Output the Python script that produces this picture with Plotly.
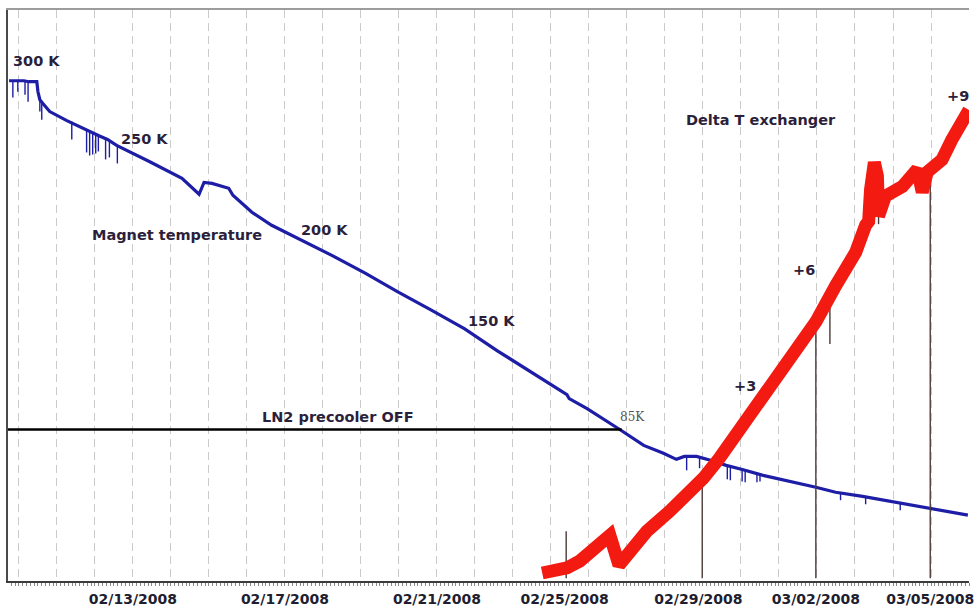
import plotly.graph_objects as go

# ---- Magnet temperature (K) vs. elapsed days ----
blue_day = [-0.26, -0.18, 0.13, 0.26, 0.47, 0.50, 0.55, 0.63, 0.81, 1.26, 1.78, 2.09, 2.33,
            2.57, 3.43, 4.29, 4.74, 4.87, 5.08, 5.52, 5.63, 6.13, 6.65, 7.17, 8.22, 9.11,
            9.97, 10.84, 11.73, 12.59, 13.64, 14.42, 14.48, 14.95, 15.81, 16.44, 16.96,
            17.30, 17.51, 17.83, 18.22, 18.61, 19.01, 19.35, 19.58, 20.97, 21.49, 22.20,
            23.06, 23.93, 24.97]
blue_temp = [300.0, 300.0, 300.0, 299.4, 299.4, 293.2, 288.3, 285.9, 281.0, 275.4, 269.3,
             266.2, 263.8, 260.1, 250.2, 239.8, 230.0, 237.3, 236.7, 233.7, 229.4, 218.9,
             210.9, 204.8, 192.5, 181.4, 169.8, 158.7, 147.0, 133.5, 118.2, 106.5, 104.0,
             97.9, 85.0, 75.2, 70.3, 66.6, 68.4, 68.4, 65.9, 62.9, 60.5, 58.0, 56.7, 49.4,
             46.3, 43.8, 40.2, 36.5, 32.2]

# short sensor drop-outs on the magnet trace
spike_day = [-0.16, -0.03, 0.16, 0.24, 0.55, 0.60, 1.39, 1.78, 1.86, 1.94, 2.02, 2.09, 2.28,
             2.38, 2.59, 17.57, 17.91, 18.64, 18.72, 19.03, 19.11, 19.42, 19.50, 21.62,
             22.28, 23.19]
spike_top = [300.0, 300.0, 300.0, 299.4, 288.3, 285.9, 274.8, 269.3, 268.7, 267.4, 266.8,
             266.2, 264.4, 263.1, 260.7, 67.8, 67.8, 62.9, 62.3, 60.5, 60.5, 58.6, 58.0,
             46.3, 43.2, 39.6]
spike_low = [289.6, 293.2, 291.4, 287.1, 281.0, 276.0, 263.8, 255.8, 253.9, 254.5, 255.2,
             256.4, 251.5, 252.7, 249.0, 59.8, 61.1, 54.3, 53.7, 53.0, 52.4, 52.4, 53.0,
             41.4, 38.9, 35.2]

# ---- Delta T across the exchanger (relative units) ----
red_day = [13.77, 14.16, 14.42, 14.76, 15.21, 15.55, 15.79, 16.07, 16.52, 17.12, 17.57,
           18.01, 18.43, 18.87, 19.58, 20.10, 20.63, 20.97, 21.49, 22.02, 22.28, 22.36,
           22.41, 22.51, 22.59, 22.62, 22.80, 23.25, 23.64, 23.77, 23.90, 24.29, 24.55,
           24.82, 25.00]
red_dt = [0.14, 0.19, 0.23, 0.35, 0.58, 0.80, 0.28, 0.52, 0.87, 1.22, 1.50, 1.80, 2.15,
          2.55, 3.25, 3.72, 4.24, 4.54, 5.17, 5.76, 6.23, 6.30, 6.86, 7.33, 7.09, 6.39,
          6.74, 6.91, 7.21, 6.81, 7.16, 7.38, 7.73, 8.03, 8.25]

# vertical markers on the Delta T trace
event_day = [14.40, 17.98, 20.97, 21.34, 22.62, 23.98]
event_low = [0.05, 0.05, 0.05, 4.15, 6.25, 0.05]
event_high = [0.87, 1.80, 4.45, 4.94, 6.86, 6.95]

# LN2 precooler switched off at 85 K
ln2_day = [-0.29, 15.86]
ln2_temp = [85.0, 85.0]

tick_pos = [3.0, 7.0, 11.0, 14.36, 17.88, 20.97, 23.98]
tick_text = ["02/13/2008", "02/17/2008", "02/21/2008", "02/25/2008",
             "02/29/2008", "03/02/2008", "03/05/2008"]

temp_labels = ["300 K", "250 K", "Magnet temperature", "200 K", "150 K", "LN2 precooler OFF"]
temp_label_day = [0.47, 3.31, 4.16, 8.05, 12.43, 8.40]
temp_label_val = [312.3, 263.8, 204.8, 208.2, 151.9, 93.0]

dt_labels = ["Delta T exchanger", "+3", "+6", "+9"]
dt_label_day = [19.53, 19.11, 20.65, 24.71]
dt_label_val = [8.08, 3.42, 5.45, 8.50]

X_RANGE = [-0.288, 25.0]
Y_RANGE = [-8.4, 343.6]
Y2_RANGE = [0.0, 10.0]

BLUE = "#1d1da6"
RED = "#f31a12"
TEXT = "#2c1f3c"


def segments(xs, lows, highs):
    px, py = [], []
    for x, lo, hi in zip(xs, lows, highs):
        px += [x, x, None]
        py += [lo, hi, None]
    return px, py


fig = go.Figure()

sx, sy = segments(spike_day, spike_low, spike_top)
fig.add_trace(go.Scatter(x=sx, y=sy, mode="lines", line=dict(color=BLUE, width=1.4),
                         hoverinfo="skip", showlegend=False))
fig.add_trace(go.Scatter(x=blue_day, y=blue_temp, mode="lines", name="Magnet temperature",
                         line=dict(color=BLUE, width=3.2), showlegend=False))

ex, ey = segments(event_day, event_low, event_high)
fig.add_trace(go.Scatter(x=ex, y=ey, yaxis="y2", mode="lines",
                         line=dict(color="#4d3a3a", width=1.4),
                         hoverinfo="skip", showlegend=False))
fig.add_trace(go.Scatter(x=red_day, y=red_dt, yaxis="y2", mode="lines",
                         name="Delta T exchanger",
                         line=dict(color=RED, width=13), showlegend=False))

fig.add_trace(go.Scatter(x=ln2_day, y=ln2_temp, xaxis="x2", mode="lines",
                         line=dict(color="#000000", width=2.5),
                         hoverinfo="skip", showlegend=False))

label_font = dict(family="DejaVu Sans", size=14.5, color=TEXT, weight="bold")
for t, x, y in zip(temp_labels, temp_label_day, temp_label_val):
    fig.add_annotation(text=t, x=x, y=y, xref="x", yref="y", showarrow=False,
                       xanchor="center", yanchor="middle", font=label_font)
for t, x, y in zip(dt_labels, dt_label_day, dt_label_val):
    fig.add_annotation(text=t, x=x, y=y, xref="x", yref="y2", showarrow=False,
                       xanchor="center", yanchor="middle", font=label_font)
fig.add_annotation(text="85K", x=16.15, y=92.4, xref="x", yref="y", showarrow=False,
                   xanchor="center", yanchor="middle",
                   font=dict(family="DejaVu Serif", size=12, color="#555555"))

fig.update_layout(
    width=974, height=607,
    margin=dict(l=8, r=0, t=10, b=24),
    paper_bgcolor="white", plot_bgcolor="white",
    showlegend=False,
    xaxis=dict(
        range=X_RANGE, tickmode="array", tickvals=tick_pos, ticktext=tick_text,
        ticks="", showgrid=False, zeroline=False,
        showline=True, linecolor="#3c3c3c", linewidth=2,
        tickfont=dict(family="DejaVu Sans", size=14, color="#1e1e30", weight="bold"),
        ticklabeloverflow="allow", ticklabelstandoff=4,
        minor=dict(ticks="outside", ticklen=3, tickwidth=1, tickcolor="#8a8a8a",
                   tickmode="linear", tick0=0, dtick=0.1, showgrid=False),
    ),
    xaxis2=dict(
        range=X_RANGE, overlaying="x", side="top", anchor="y",
        tickmode="linear", tick0=0, dtick=1, ticks="", showticklabels=False,
        showgrid=True, gridcolor="#cacaca", gridwidth=1, griddash="8px,5px",
        zeroline=False, showline=True, linecolor="#9c9c9c", linewidth=2,
    ),
    yaxis=dict(
        range=Y_RANGE, showgrid=False, zeroline=False, showticklabels=False, ticks="",
        showline=True, linecolor="#4a4a4a", linewidth=2,
    ),
    yaxis2=dict(
        range=Y2_RANGE, overlaying="y", showgrid=False, zeroline=False,
        showticklabels=False, ticks="", showline=False,
    ),
)

fig.write_html("out.html")
